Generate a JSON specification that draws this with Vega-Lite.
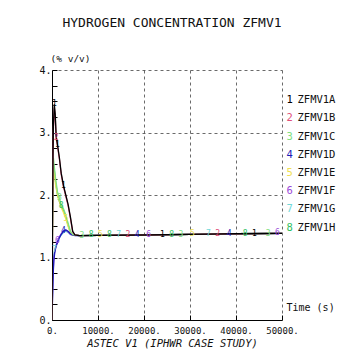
{
  "$schema": "https://vega.github.io/schema/vega-lite/v6.json",
  "width": 230,
  "height": 250,
  "autosize": {"type": "none"},
  "padding": {"left": 52, "top": 70, "right": 76, "bottom": 40},
  "background": "white",
  "title": {"text": "HYDROGEN CONCENTRATION ZFMV1", "font": "DejaVu Sans Mono", "fontSize": 13, "fontWeight": "normal", "color": "#111", "anchor": "middle", "offset": 23, "dx": 5},
  "config": {
    "view": {"stroke": null},
    "font": "DejaVu Sans Mono",
    "axis": {"labelFont": "DejaVu Sans Mono", "titleFont": "DejaVu Sans Mono", "labelColor": "#111", "titleColor": "#111", "titleFontWeight": "normal", "domainColor": "#000", "tickColor": "#000"}
  },
  "datasets": {
    "lines": [
      {"s":"ZFMV1H","t":0,"v":0},{"s":"ZFMV1H","t":100,"v":1.4},{"s":"ZFMV1H","t":200,"v":2.2},{"s":"ZFMV1H","t":300,"v":2.5},{"s":"ZFMV1H","t":500,"v":2.4},{"s":"ZFMV1H","t":800,"v":2.2},{"s":"ZFMV1H","t":1200,"v":2.0},{"s":"ZFMV1H","t":1600,"v":1.9},{"s":"ZFMV1H","t":2000,"v":1.82},{"s":"ZFMV1H","t":2500,"v":1.75},{"s":"ZFMV1H","t":3000,"v":1.65},{"s":"ZFMV1H","t":3500,"v":1.52},{"s":"ZFMV1H","t":4000,"v":1.4},{"s":"ZFMV1H","t":4500,"v":1.36},{"s":"ZFMV1H","t":6000,"v":1.35},{"s":"ZFMV1H","t":10000,"v":1.355},{"s":"ZFMV1H","t":20000,"v":1.36},{"s":"ZFMV1H","t":30000,"v":1.37},{"s":"ZFMV1H","t":40000,"v":1.38},{"s":"ZFMV1H","t":50000,"v":1.385},
      {"s":"ZFMV1G","t":0,"v":0},{"s":"ZFMV1G","t":100,"v":0.4},{"s":"ZFMV1G","t":200,"v":0.75},{"s":"ZFMV1G","t":300,"v":0.95},{"s":"ZFMV1G","t":400,"v":1.05},{"s":"ZFMV1G","t":600,"v":1.12},{"s":"ZFMV1G","t":800,"v":1.18},{"s":"ZFMV1G","t":1000,"v":1.22},{"s":"ZFMV1G","t":1500,"v":1.3},{"s":"ZFMV1G","t":2000,"v":1.36},{"s":"ZFMV1G","t":2500,"v":1.4},{"s":"ZFMV1G","t":3000,"v":1.42},{"s":"ZFMV1G","t":3500,"v":1.4},{"s":"ZFMV1G","t":4000,"v":1.37},{"s":"ZFMV1G","t":4500,"v":1.36},{"s":"ZFMV1G","t":6000,"v":1.35},{"s":"ZFMV1G","t":10000,"v":1.355},{"s":"ZFMV1G","t":20000,"v":1.36},{"s":"ZFMV1G","t":30000,"v":1.37},{"s":"ZFMV1G","t":40000,"v":1.38},{"s":"ZFMV1G","t":50000,"v":1.385},
      {"s":"ZFMV1F","t":0,"v":0},{"s":"ZFMV1F","t":100,"v":0.35},{"s":"ZFMV1F","t":200,"v":0.65},{"s":"ZFMV1F","t":300,"v":0.85},{"s":"ZFMV1F","t":400,"v":1.0},{"s":"ZFMV1F","t":600,"v":1.1},{"s":"ZFMV1F","t":800,"v":1.17},{"s":"ZFMV1F","t":1000,"v":1.22},{"s":"ZFMV1F","t":1500,"v":1.32},{"s":"ZFMV1F","t":2000,"v":1.38},{"s":"ZFMV1F","t":2500,"v":1.43},{"s":"ZFMV1F","t":3000,"v":1.44},{"s":"ZFMV1F","t":3500,"v":1.41},{"s":"ZFMV1F","t":4000,"v":1.37},{"s":"ZFMV1F","t":4500,"v":1.36},{"s":"ZFMV1F","t":6000,"v":1.35},{"s":"ZFMV1F","t":10000,"v":1.355},{"s":"ZFMV1F","t":20000,"v":1.36},{"s":"ZFMV1F","t":30000,"v":1.37},{"s":"ZFMV1F","t":40000,"v":1.38},{"s":"ZFMV1F","t":50000,"v":1.385},
      {"s":"ZFMV1E","t":0,"v":0},{"s":"ZFMV1E","t":100,"v":1.5},{"s":"ZFMV1E","t":200,"v":2.2},{"s":"ZFMV1E","t":300,"v":2.45},{"s":"ZFMV1E","t":500,"v":2.35},{"s":"ZFMV1E","t":800,"v":2.15},{"s":"ZFMV1E","t":1200,"v":2.0},{"s":"ZFMV1E","t":1600,"v":1.9},{"s":"ZFMV1E","t":2000,"v":1.8},{"s":"ZFMV1E","t":2500,"v":1.72},{"s":"ZFMV1E","t":3000,"v":1.62},{"s":"ZFMV1E","t":3500,"v":1.5},{"s":"ZFMV1E","t":4000,"v":1.4},{"s":"ZFMV1E","t":4500,"v":1.36},{"s":"ZFMV1E","t":6000,"v":1.35},{"s":"ZFMV1E","t":10000,"v":1.355},{"s":"ZFMV1E","t":20000,"v":1.36},{"s":"ZFMV1E","t":30000,"v":1.37},{"s":"ZFMV1E","t":40000,"v":1.38},{"s":"ZFMV1E","t":50000,"v":1.385},
      {"s":"ZFMV1D","t":0,"v":0},{"s":"ZFMV1D","t":100,"v":0.3},{"s":"ZFMV1D","t":200,"v":0.6},{"s":"ZFMV1D","t":300,"v":0.8},{"s":"ZFMV1D","t":400,"v":0.95},{"s":"ZFMV1D","t":600,"v":1.08},{"s":"ZFMV1D","t":800,"v":1.15},{"s":"ZFMV1D","t":1000,"v":1.2},{"s":"ZFMV1D","t":1500,"v":1.3},{"s":"ZFMV1D","t":2000,"v":1.37},{"s":"ZFMV1D","t":2500,"v":1.42},{"s":"ZFMV1D","t":3000,"v":1.44},{"s":"ZFMV1D","t":3500,"v":1.42},{"s":"ZFMV1D","t":4000,"v":1.38},{"s":"ZFMV1D","t":4500,"v":1.36},{"s":"ZFMV1D","t":5000,"v":1.35},{"s":"ZFMV1D","t":6000,"v":1.35},{"s":"ZFMV1D","t":10000,"v":1.355},{"s":"ZFMV1D","t":20000,"v":1.36},{"s":"ZFMV1D","t":30000,"v":1.37},{"s":"ZFMV1D","t":40000,"v":1.38},{"s":"ZFMV1D","t":50000,"v":1.385},
      {"s":"ZFMV1C","t":0,"v":0},{"s":"ZFMV1C","t":100,"v":1.6},{"s":"ZFMV1C","t":200,"v":2.3},{"s":"ZFMV1C","t":300,"v":2.6},{"s":"ZFMV1C","t":500,"v":2.45},{"s":"ZFMV1C","t":800,"v":2.25},{"s":"ZFMV1C","t":1200,"v":2.05},{"s":"ZFMV1C","t":1600,"v":1.95},{"s":"ZFMV1C","t":2000,"v":1.85},{"s":"ZFMV1C","t":2500,"v":1.78},{"s":"ZFMV1C","t":3000,"v":1.68},{"s":"ZFMV1C","t":3500,"v":1.55},{"s":"ZFMV1C","t":4000,"v":1.42},{"s":"ZFMV1C","t":4500,"v":1.37},{"s":"ZFMV1C","t":5000,"v":1.36},{"s":"ZFMV1C","t":6000,"v":1.35},{"s":"ZFMV1C","t":10000,"v":1.355},{"s":"ZFMV1C","t":20000,"v":1.36},{"s":"ZFMV1C","t":30000,"v":1.37},{"s":"ZFMV1C","t":40000,"v":1.38},{"s":"ZFMV1C","t":50000,"v":1.385},
      {"s":"ZFMV1B","t":0,"v":0},{"s":"ZFMV1B","t":100,"v":1.25},{"s":"ZFMV1B","t":200,"v":2.45},{"s":"ZFMV1B","t":300,"v":3.05},{"s":"ZFMV1B","t":500,"v":3.4},{"s":"ZFMV1B","t":700,"v":3.25},{"s":"ZFMV1B","t":900,"v":2.92},{"s":"ZFMV1B","t":1200,"v":2.78},{"s":"ZFMV1B","t":1600,"v":2.58},{"s":"ZFMV1B","t":2000,"v":2.33},{"s":"ZFMV1B","t":2500,"v":2.13},{"s":"ZFMV1B","t":3000,"v":1.98},{"s":"ZFMV1B","t":3500,"v":1.83},{"s":"ZFMV1B","t":4000,"v":1.63},{"s":"ZFMV1B","t":4500,"v":1.41},{"s":"ZFMV1B","t":5000,"v":1.36},{"s":"ZFMV1B","t":6000,"v":1.35},{"s":"ZFMV1B","t":10000,"v":1.355},{"s":"ZFMV1B","t":20000,"v":1.36},{"s":"ZFMV1B","t":30000,"v":1.37},{"s":"ZFMV1B","t":40000,"v":1.38},{"s":"ZFMV1B","t":50000,"v":1.385},
      {"s":"ZFMV1A","t":0,"v":0},{"s":"ZFMV1A","t":100,"v":1.3},{"s":"ZFMV1A","t":200,"v":2.5},{"s":"ZFMV1A","t":300,"v":3.1},{"s":"ZFMV1A","t":500,"v":3.45},{"s":"ZFMV1A","t":700,"v":3.3},{"s":"ZFMV1A","t":900,"v":2.95},{"s":"ZFMV1A","t":1200,"v":2.8},{"s":"ZFMV1A","t":1600,"v":2.6},{"s":"ZFMV1A","t":2000,"v":2.35},{"s":"ZFMV1A","t":2500,"v":2.15},{"s":"ZFMV1A","t":3000,"v":2.0},{"s":"ZFMV1A","t":3500,"v":1.85},{"s":"ZFMV1A","t":4000,"v":1.65},{"s":"ZFMV1A","t":4500,"v":1.42},{"s":"ZFMV1A","t":5000,"v":1.36},{"s":"ZFMV1A","t":6000,"v":1.35},{"s":"ZFMV1A","t":10000,"v":1.355},{"s":"ZFMV1A","t":20000,"v":1.36},{"s":"ZFMV1A","t":30000,"v":1.37},{"s":"ZFMV1A","t":40000,"v":1.38},{"s":"ZFMV1A","t":50000,"v":1.385}
    ],
    "marks": [
      {"s":"ZFMV1A","n":"1","t":500,"v":3.45},{"s":"ZFMV1A","n":"1","t":1200,"v":2.8},{"s":"ZFMV1A","n":"1","t":2500,"v":2.15},{"s":"ZFMV1A","n":"1","t":24000,"v":1.364},{"s":"ZFMV1A","n":"1","t":44000,"v":1.382},
      {"s":"ZFMV1B","n":"2","t":900,"v":2.92},{"s":"ZFMV1B","n":"2","t":16500,"v":1.358},{"s":"ZFMV1B","n":"2","t":36000,"v":1.376},
      {"s":"ZFMV1C","n":"3","t":1600,"v":1.95},{"s":"ZFMV1C","n":"3","t":6500,"v":1.352},{"s":"ZFMV1C","n":"3","t":28000,"v":1.368},{"s":"ZFMV1C","n":"3","t":47000,"v":1.384},
      {"s":"ZFMV1D","n":"4","t":2500,"v":1.42},{"s":"ZFMV1D","n":"4","t":18500,"v":1.36},{"s":"ZFMV1D","n":"4","t":38500,"v":1.378},
      {"s":"ZFMV1E","n":"5","t":3000,"v":1.62},{"s":"ZFMV1E","n":"5","t":10500,"v":1.355},{"s":"ZFMV1E","n":"5","t":30500,"v":1.37},
      {"s":"ZFMV1F","n":"6","t":1200,"v":1.27},{"s":"ZFMV1F","n":"6","t":21000,"v":1.362},{"s":"ZFMV1F","n":"6","t":49000,"v":1.385},
      {"s":"ZFMV1G","n":"7","t":600,"v":1.12},{"s":"ZFMV1G","n":"7","t":14500,"v":1.357},{"s":"ZFMV1G","n":"7","t":34000,"v":1.374},
      {"s":"ZFMV1H","n":"8","t":2000,"v":1.82},{"s":"ZFMV1H","n":"8","t":8500,"v":1.353},{"s":"ZFMV1H","n":"8","t":12500,"v":1.356},{"s":"ZFMV1H","n":"8","t":26000,"v":1.366},{"s":"ZFMV1H","n":"8","t":42000,"v":1.381}
    ]
  },
  "resolve": {"axis": {"y": "independent"}},
  "layer": [
    {
      "data": {"name": "lines"},
      "mark": {"type": "line", "strokeWidth": 1.3, "clip": true},
      "encoding": {
        "x": {"field": "t", "type": "quantitative", "scale": {"domain": [0, 50000], "nice": false, "zero": false},
          "axis": {"values": [0,2500,5000,7500,10000,12500,15000,17500,20000,22500,25000,27500,30000,32500,35000,37500,40000,42500,45000,47500,50000],
            "labelExpr": "datum.value % 10000 === 0 ? datum.value + '.' : ''",
            "labelFontSize": 9, "labelPadding": 11, "labelFlush": false, "labelOverlap": false,
            "tickSize": -5, "tickColor": "#000",
            "grid": true, "gridDash": [3, 3], "gridColor": "#444", "gridWidth": 0.8,
            "gridOpacity": {"condition": {"test": "datum.value % 10000 === 0 && datum.value > 0", "value": 1}, "value": 0},
            "title": "ASTEC V1 (IPHWR CASE STUDY)", "titleFontSize": 10.5, "titleFontStyle": "italic", "titleX": 120, "titleY": 26, "titleAnchor": "middle", "titleAlign": "center", "titleBaseline": "alphabetic"}},
        "y": {"field": "v", "type": "quantitative", "scale": {"domain": [0, 4], "nice": false},
          "axis": {"values": [0,0.25,0.5,0.75,1,1.25,1.5,1.75,2,2.25,2.5,2.75,3,3.25,3.5,3.75,4],
            "labelExpr": "datum.value % 1 === 0 ? datum.value + '.' : ''",
            "labelFontSize": 10, "labelPadding": 6, "labelFlush": false, "labelOverlap": false,
            "tickSize": -5,
            "grid": true, "gridDash": [3, 3], "gridColor": "#444", "gridWidth": 0.8,
            "gridOpacity": {"condition": {"test": "datum.value % 1 === 0 && datum.value > 0", "value": 1}, "value": 0},
            "title": "(% v/v)", "titleFontSize": 9.5, "titleAngle": 0, "titleX": -2, "titleY": -9, "titleAlign": "left", "titleBaseline": "alphabetic", "titleAnchor": "start"}},
        "color": {"field": "s", "type": "nominal",
          "scale": {"domain": ["ZFMV1A","ZFMV1B","ZFMV1C","ZFMV1D","ZFMV1E","ZFMV1F","ZFMV1G","ZFMV1H"], "range": ["#000000","#e0507a","#80e080","#1a1ab8","#f0e050","#9a48d8","#70d8d8","#30c060"]},
          "legend": {"orient": "none", "legendX": 235, "legendY": 25, "title": null, "padding": 0, "symbolSize": 0, "symbolStrokeWidth": 0, "symbolOpacity": 0, "labelOffset": 0, "labelFont": "DejaVu Sans Mono", "labelFontSize": 10.5, "labelColor": "#111", "rowPadding": 7.2}}
      }
    },
    {
      "data": {"name": "marks"},
      "mark": {"type": "text", "fontSize": 8, "align": "center", "baseline": "middle", "font": "DejaVu Sans Mono"},
      "encoding": {
        "x": {"field": "t", "type": "quantitative"},
        "y": {"field": "v", "type": "quantitative",
          "axis": {"orient": "right", "domain": false, "ticks": false, "labels": false, "grid": false,
            "title": "Time (s)", "titleFontSize": 10, "titleAngle": 0, "titleX": 4, "titleY": 240, "titleAlign": "left", "titleBaseline": "alphabetic", "titleAnchor": "start"}},
        "text": {"field": "n"},
        "color": {"field": "s", "type": "nominal", "legend": null},
        "opacity": {"field": "n", "type": "ordinal", "scale": {"range": [1, 1]},
          "legend": {"orient": "none", "legendX": 224, "legendY": 25, "title": null, "padding": 0, "symbolSize": 0, "symbolStrokeWidth": 0, "symbolOpacity": 0, "labelOffset": 0, "labelFont": "DejaVu Sans Mono", "labelFontSize": 10.5, "rowPadding": 7.2,
            "labelColor": {"expr": "['#000000','#e0507a','#80e080','#1a1ab8','#f0e050','#9a48d8','#70d8d8','#30c060'][+datum.value - 1]"}}}
      }
    }
  ]
}
